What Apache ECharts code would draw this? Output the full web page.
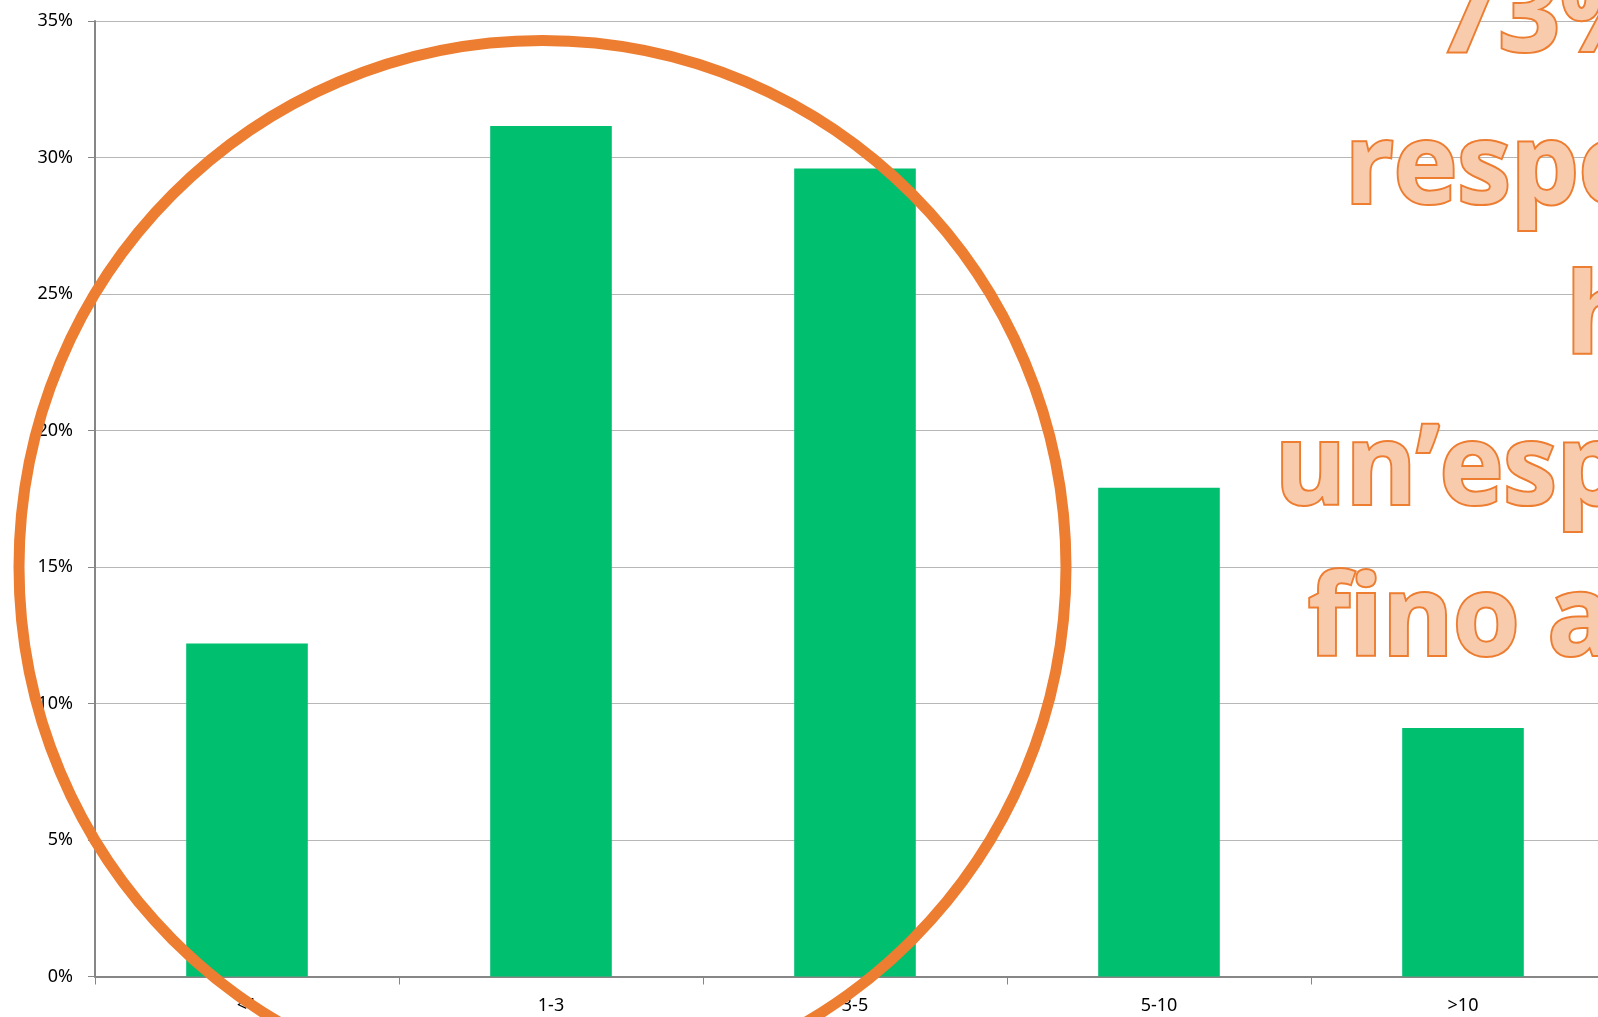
<!DOCTYPE html>
<html>
<head>
<meta charset="utf-8">
<script src="https://cdn.jsdelivr.net/npm/echarts@6/dist/echarts.min.js"></script>
<style>
  html, body { margin: 0; padding: 0; background: #ffffff; }
  #chart { width: 1598px; height: 1017px; }
</style>
</head>
<body>
<div id="chart"></div>
<script>
// ---- data ----
const categories = ['<1', '1-3', '3-5', '5-10', '>10'];
const shares = [12.2, 31.15, 29.6, 17.9, 9.1];
const yMin = 0, yMax = 35, yStep = 5;
const noteLines = ['73% dei', 'respondenti', 'ha', 'un\u2019esperienza', 'fino a 5 anni'];

// ---- layout for the overlay note (left start x, baseline y) ----
const noteLayout = [[1437, 53], [1345, 205], [1566, 355], [1275, 506], [1308, 657]];
const noteFont = 112;

const chart = echarts.init(document.getElementById('chart'), null, { renderer: 'canvas' });

const noteGraphics = noteLines.map((t, i) => ({
  type: 'text',
  x: noteLayout[i][0],
  y: noteLayout[i][1] - noteFont * 0.3,
  scaleX: 0.96,
  z: 100,
  style: {
    text: t,
    fill: '#F8CBAD',
    stroke: '#ED7D31',
    lineWidth: 4,
    font: '700 ' + noteFont + 'px "Open Sans"',
    textAlign: 'left',
    textVerticalAlign: 'middle'
  }
}));

chart.setOption({
  animation: false,
  backgroundColor: '#ffffff',
  grid: { left: 95, top: 21, width: 1520, height: 955.5, outerBoundsMode: 'none', containLabel: false },
  xAxis: {
    type: 'category',
    data: categories,
    axisLine: { lineStyle: { color: '#868686', width: 2 } },
    axisTick: { show: true, alignWithLabel: false, length: 8, lineStyle: { color: '#868686', width: 1 } },
    axisLabel: { color: '#000000', fontFamily: 'Noto Sans', fontSize: 18, margin: 20 },
    splitLine: { show: false }
  },
  yAxis: {
    type: 'value',
    min: yMin, max: yMax, interval: yStep,
    axisLine: { show: true, lineStyle: { color: '#868686', width: 2 } },
    axisTick: { show: true, length: 7, lineStyle: { color: '#868686', width: 1 } },
    axisLabel: { color: '#000000', fontFamily: 'Noto Sans', fontSize: 18, margin: 22, formatter: '{value}%' },
    splitLine: { show: true, lineStyle: { color: '#B7B7B7', width: 1 } }
  },
  series: [{
    type: 'bar',
    data: shares,
    barWidth: '40%',
    itemStyle: { color: '#00BF6F' }
  }],
  graphic: [
    {
      type: 'ellipse',
      z: 100,
      shape: { cx: 542.5, cy: 567, rx: 523.5, ry: 526.5 },
      style: { fill: null, stroke: '#ED7D31', lineWidth: 11 }
    }
  ].concat(noteGraphics)
});
</script>
</body>
</html>
